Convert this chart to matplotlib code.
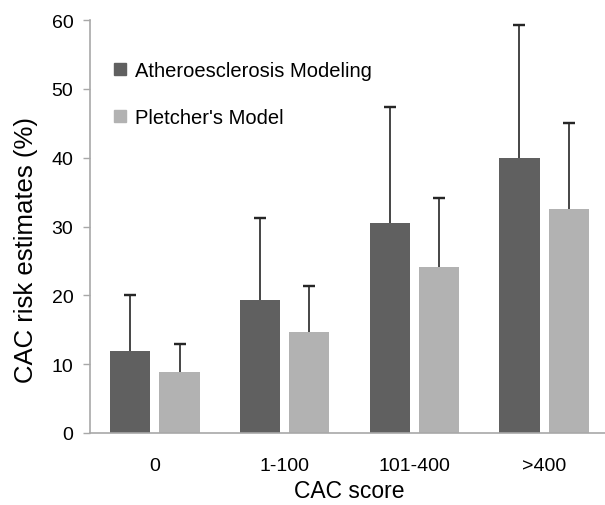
import numpy as np
import matplotlib
matplotlib.use("Agg")
import matplotlib.pyplot as plt
from matplotlib.patches import Patch

plt.rcParams['font.family'] = ['Liberation Sans', 'DejaVu Sans']

categories = ["0", "1-100", "101-400", ">400"]
athero_mean = [11.9, 19.3, 30.5, 40.0]
athero_upper = [20.0, 31.2, 47.3, 59.3]
pletcher_mean = [8.9, 14.7, 24.1, 32.6]
pletcher_upper = [13.0, 21.3, 34.2, 45.1]
labels = ["Atheroesclerosis Modeling", "Pletcher's Model"]

dark = '#606060'
light = '#b2b2b2'
axis_grey = '#a8a8a8'
err_col = '#262626'

W, H = 605, 506
fig = plt.figure(figsize=(W / 100, H / 100), dpi=100)
# axes run off the right edge, like the source image
ax = fig.add_axes([90 / W, (H - 434) / H, 519 / W, (434 - 21) / H])

x = np.arange(len(categories))
bw = 0.31
off = 0.19

ax.bar(x - off, athero_mean, bw, color=dark, zorder=2)
ax.bar(x + off, pletcher_mean, bw, color=light, zorder=2)

# one-sided error bars: stem from bar top, cap only at the upper end
for xs, lo, hi in [(x - off, athero_mean, athero_upper),
                   (x + off, pletcher_mean, pletcher_upper)]:
    ax.vlines(xs, lo, hi, color=err_col, linewidth=1.2, zorder=3)
    ax.errorbar(xs, hi, yerr=0, fmt='none', ecolor=err_col,
                elinewidth=0, capsize=4, capthick=1.6, zorder=3)

ax.set_xlim(-0.5, 3.5)
ax.set_ylim(0, 60)
ax.set_yticks(range(0, 61, 10))
ax.set_xticks(x)
ax.set_xticklabels(categories)

for s in ['top', 'right']:
    ax.spines[s].set_visible(False)
for s in ['left', 'bottom']:
    ax.spines[s].set_color(axis_grey)
    ax.spines[s].set_linewidth(1.2)

ax.tick_params(axis='y', length=5, width=1, color=axis_grey, pad=7, labelsize=14)
ax.tick_params(axis='x', length=0, pad=17, labelsize=14)

ax.set_xlabel("CAC score", fontsize=16.5, labelpad=4)
ax.set_ylabel("CAC risk estimates (%)", fontsize=18.5)
ax.yaxis.set_label_coords(-0.10, 0.445)

handles = [Patch(color=dark), Patch(color=light)]
ax.legend(handles, labels, loc='upper left', bbox_to_anchor=(114 / W, 1 - 62 / H),
          bbox_transform=fig.transFigure, frameon=False, fontsize=14.5,
          handlelength=0.6, handleheight=0.6, handletextpad=0.45,
          labelspacing=1.4, borderpad=0, borderaxespad=0)

fig.savefig("out.png", dpi=100)
